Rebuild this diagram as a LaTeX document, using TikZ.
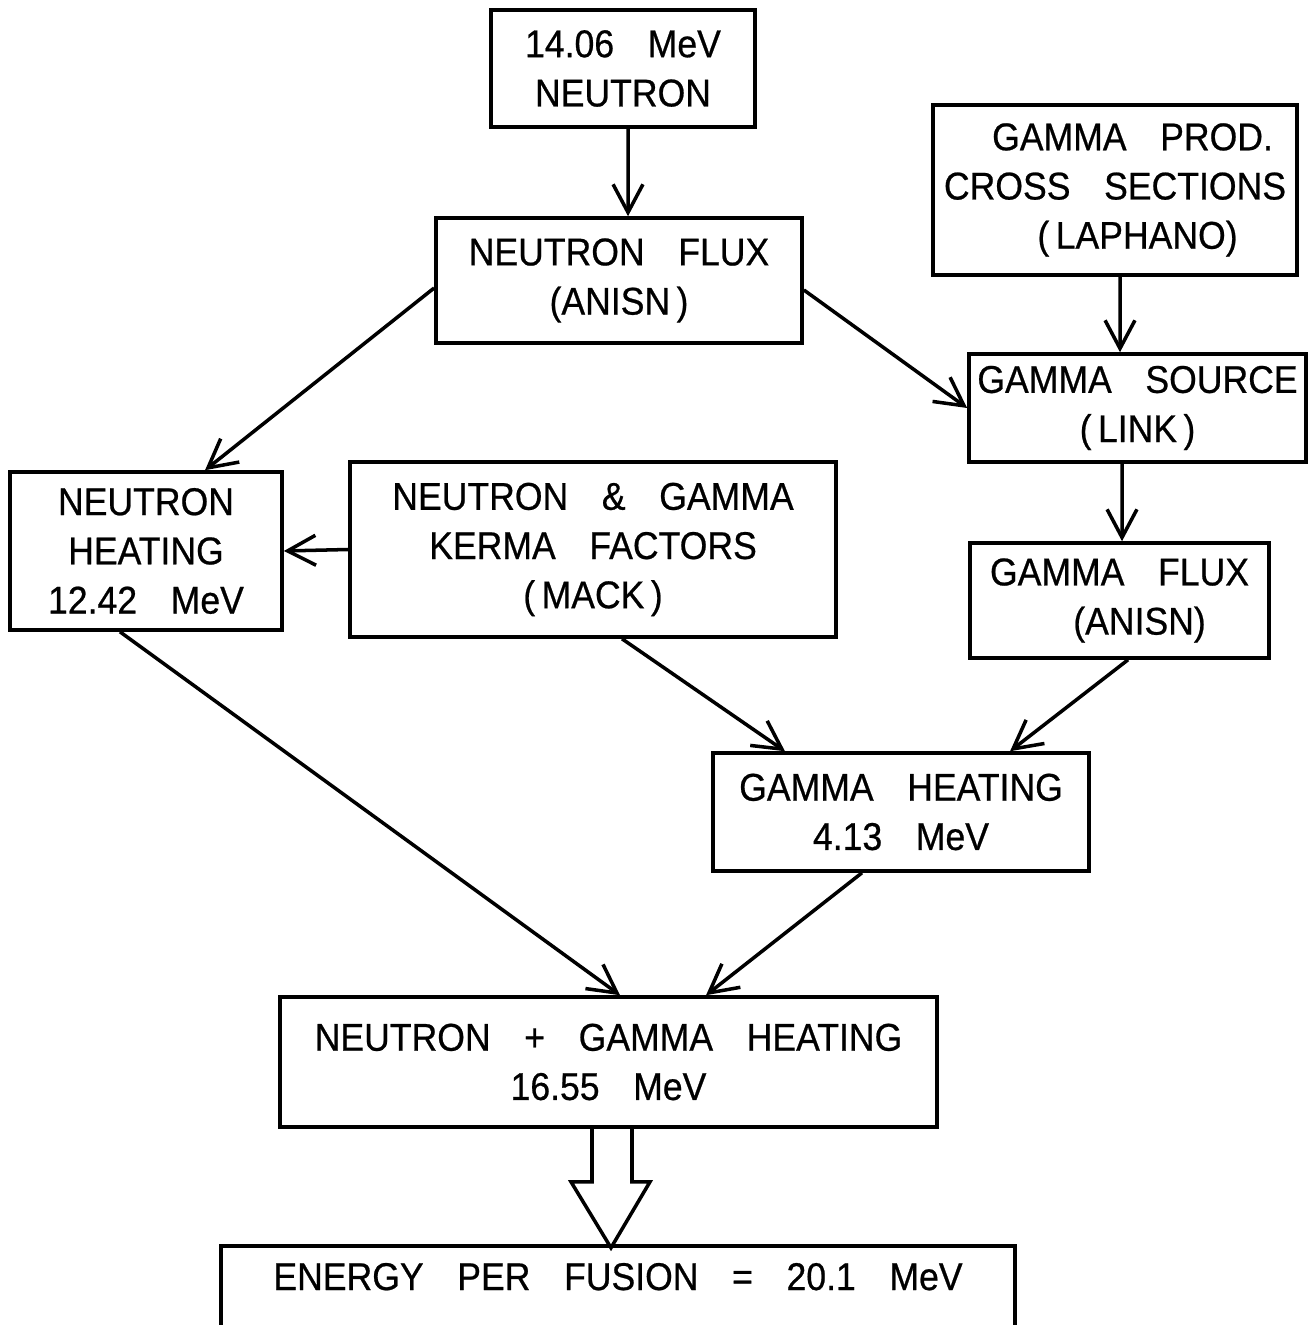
\documentclass[tikz,border=0pt]{standalone}
\usepackage{fontspec}
\setmainfont{Liberation Sans}[WordSpace=3.4, FakeStretch=0.92, FakeBold=0.6]
\usetikzlibrary{arrows.meta}

\begin{document}
\begin{tikzpicture}[x=0.01cm, y=-0.01cm,
    every node/.style={font=\fontsize{11}{14}\selectfont},
    blk/.style={draw, line width=1pt, align=center, inner sep=0pt},
    flow/.style={-{Straight Barb[length=8pt,width=8.5pt]}, line width=1pt}]
        \useasboundingbox (0,0) rectangle (1313,1325);

        \node[blk, minimum width=2.64cm, minimum height=1.17cm] (src)    at (623,68.5)   {14.06 MeV\\NEUTRON};
        \node[blk, minimum width=3.66cm, minimum height=1.25cm] (nflux)  at (619,280.5)  {NEUTRON FLUX\\(ANISN\,)};
        \node[blk, minimum width=3.64cm, minimum height=1.70cm] (gprod)  at (1115,190)   {\hspace{0.35cm}GAMMA PROD.\\CROSS SECTIONS\\\hspace{0.45cm}(\,LAPHANO)};
        \node[blk, minimum width=3.37cm, minimum height=1.08cm] (gsrc)   at (1137.5,408) {GAMMA SOURCE\\(\,LINK\,)};
        \node[blk, minimum width=2.72cm, minimum height=1.58cm] (nheat)  at (146,551)    {NEUTRON\\HEATING\\12.42 MeV};
        \node[blk, minimum width=4.86cm, minimum height=1.75cm] (kerma)  at (593,549.5)  {NEUTRON \& GAMMA\\KERMA FACTORS\\(\,MACK\,)};
        \node[blk, minimum width=2.99cm, minimum height=1.15cm] (gflux)  at (1119.5,600.5) {GAMMA FLUX\\\hspace{0.4cm}(ANISN)};
        \node[blk, minimum width=3.76cm, minimum height=1.18cm] (gheat)  at (901,812)    {GAMMA HEATING\\4.13 MeV};
        \node[blk, minimum width=6.57cm, minimum height=1.30cm] (total)  at (608.5,1062) {NEUTRON + GAMMA HEATING\\16.55 MeV};
        \node[blk, minimum width=7.94cm, text height=0.44cm, text depth=0.6cm, anchor=base] (energy) at (618,1290) {ENERGY PER FUSION = 20.1 MeV};

        \draw[flow] ([xshift=0.05cm]src.south) -- ([xshift=0.09cm]nflux.north);
        \draw[flow] ([yshift=-0.075cm]nflux.west) -- ([xshift=0.59cm]nheat.north);
        \draw[flow] ([yshift=-0.095cm]nflux.east) -- (gsrc.west);
        \draw[flow] ([xshift=0.05cm]gprod.south) -- ([xshift=-0.175cm]gsrc.north);
        \draw[flow] ([xshift=-0.155cm]gsrc.south) -- ([xshift=0.025cm]gflux.north);
        \draw[flow] (kerma.west) -- (nheat.east);
        \draw[flow] ([xshift=-0.26cm]nheat.south) -- ([xshift=0.115cm]total.north);
        \draw[flow] ([xshift=0.29cm]kerma.south) -- ([xshift=-1.16cm]gheat.north);
        \draw[flow] ([xshift=0.085cm]gflux.south) -- ([xshift=1.09cm]gheat.north);
        \draw[flow] ([xshift=-0.39cm]gheat.south) -- ([xshift=0.975cm]total.north);

        % hollow arrow down to the result
        \draw[line width=1pt, line join=miter] ([xshift=-0.165cm]total.south) -- ++(0,53) -- ++(-21,0)
            -- ++(40,66) -- ++(39,-66) -- ++(-18,0) -- ++(0,-53);
    \end{tikzpicture}
\end{document}
